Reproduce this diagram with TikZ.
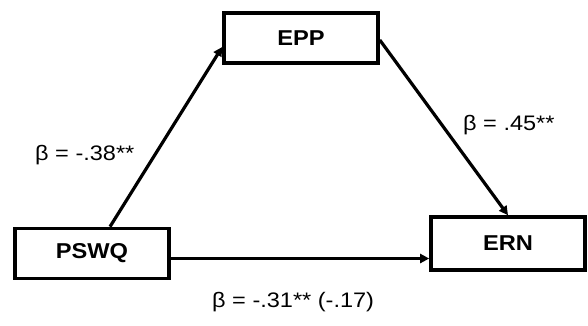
\documentclass[tikz,border=0pt]{standalone}
\usepackage{fontspec}
\setmainfont{Liberation Sans}
\newfontfamily\labfont[FakeStretch=1.12]{Liberation Sans}
\newfontfamily\boxfont[FakeStretch=1.1]{Liberation Sans}
\usetikzlibrary{arrows.meta,calc}
\begin{document}
\begin{tikzpicture}[x=1pt,y=-1pt,
  box/.style={draw,line width=3.6pt,minimum width=154pt,minimum height=50pt,inner sep=0pt,font=\boxfont\fontsize{21.5}{24}\selectfont\bfseries},
  arr/.style={line width=3.2pt,-{Triangle[length=9pt,width=9pt]}},
  lab/.style={inner sep=0pt,font=\labfont\fontsize{21}{24}\selectfont}]
\useasboundingbox (0,0) rectangle (588,325);
\node[box] (EPP) at (301,38) {EPP};
\node[box] (PSWQ) at (92,253.5) {PSWQ};
\node[box,minimum height=53pt] (ERN) at (508,243.5) {ERN};
\draw[arr] ([xshift=18pt]PSWQ.north) -- ([yshift=-9pt]EPP.west);
\draw[arr] ([yshift=-2pt]EPP.east) -- (ERN.north);
\draw[arr] ([yshift=-5pt]PSWQ.east) -- ([yshift=-5pt]PSWQ.east -| ERN.west);
\node[lab,anchor=west] (l1) at (35,155) {β = -.38**};
\node[lab,anchor=west] (l2) at (463,125) {β = .45**};
\node[lab,anchor=west] (l3) at (212,302) {β = -.31** (-.17)};
\end{tikzpicture}
\end{document}
